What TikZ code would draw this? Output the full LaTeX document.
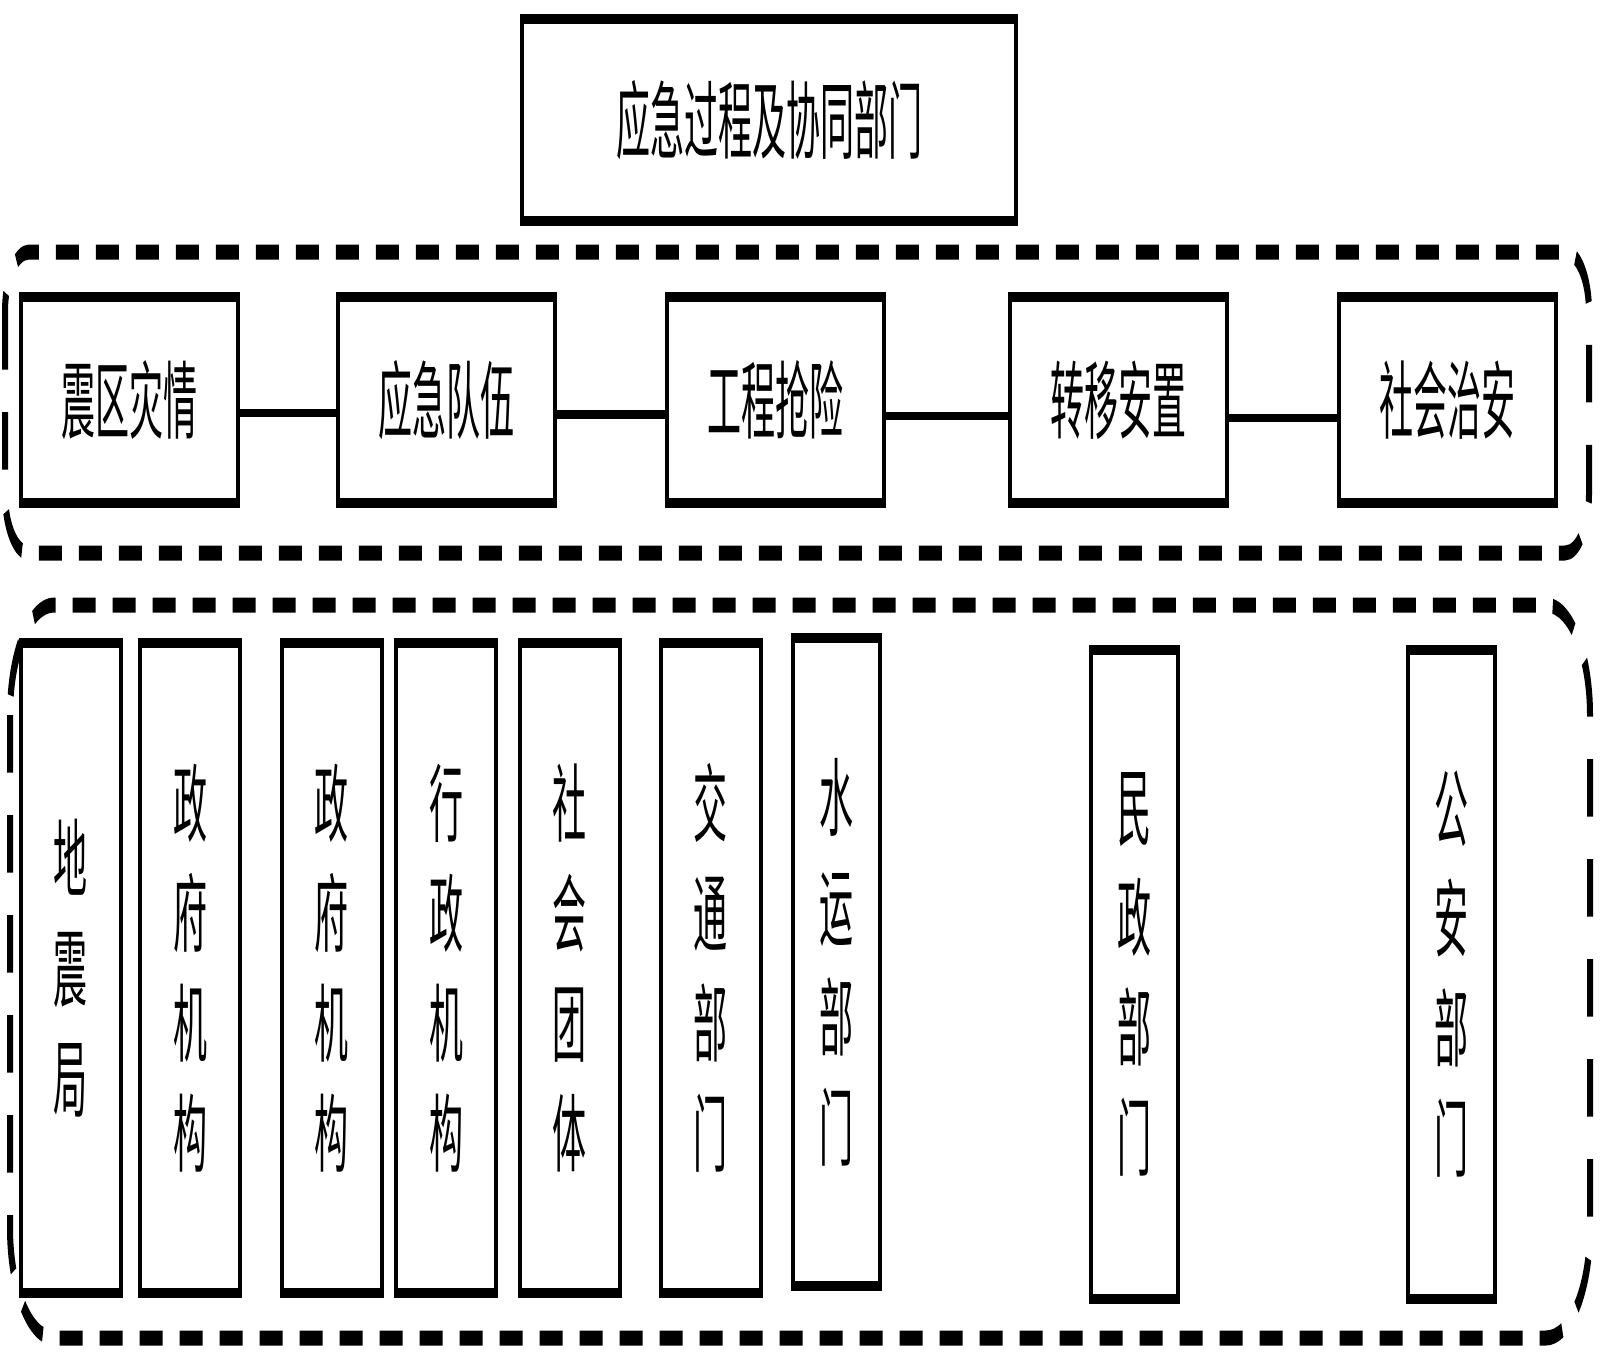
\documentclass[tikz,border=0pt]{standalone}
\usepackage{fontspec}
\newfontfamily\cjk{Noto Sans CJK SC}
\begin{document}
\begin{tikzpicture}
\fill[white] (0,0) rectangle (800pt,-678pt);
\useasboundingbox (0,0) rectangle (800pt,-678pt);
\begin{scope}[x=0.5pt,y=-0.2pt,transform canvas={yscale=2.5},
  box/.style={draw,line width=2pt,inner sep=0pt,align=center,
    font=\cjk\fontsize{17pt}{22pt}\selectfont},
  titlebox/.style={box,minimum width=247pt,minimum height=40.4pt},
  hbox/.style={box,minimum width=108.5pt,minimum height=41.2pt},
  vbox/.style={box,minimum width=50pt,minimum height=130pt},
  nbox/.style={box,minimum width=43.5pt,minimum height=129.7pt},
  link/.style={line width=1.7pt},
  group/.style={draw,dash pattern=on 11.5pt off 8.5pt,line width=3pt}]

  % title
  \node[titlebox] (title) at (769,120) {应急过程及协同部门};

  % top group
  \draw[group,rounded corners=12pt] (5,252) rectangle (1589,553);
  \node[hbox] (t1) at (129.5,400) {震区灾情};
  \node[hbox] (t2) at (446,400) {应急队伍};
  \node[hbox] (t3) at (775,400) {工程抢险};
  \node[hbox] (t4) at (1118.5,400) {转移安置};
  \node[hbox] (t5) at (1447,400) {社会治安};
  \draw[link] ([yshift=-2.6pt]t1.east) -- ([yshift=-2.6pt]t2.west);
  \draw[link] ([yshift=-2.9pt]t2.east) -- ([yshift=-2.9pt]t3.west);
  \draw[link] ([yshift=-3.2pt]t3.east) -- ([yshift=-3.2pt]t4.west);
  \draw[link] ([yshift=-3.6pt]t4.east) -- ([yshift=-3.6pt]t5.west);

  % bottom group
  \draw[group,rounded corners=22pt] (10,605) rectangle (1590,1338);
  \node[vbox] (b1) at (71,968) {地\\震\\局};
  \node[vbox] (b2) at (190,968) {政\\府\\机\\构};
  \node[vbox] (b3) at (331.5,968) {政\\府\\机\\构};
  \node[vbox] (b4) at (446,968) {行\\政\\机\\构};
  \node[vbox] (b5) at (569.5,968) {社\\会\\团\\体};
  \node[vbox] (b6) at (710.5,968) {交\\通\\部\\门};
  \node[nbox] (b7) at (836,962) {水\\运\\部\\门};
  \node[nbox] (b8) at (1134.5,974.5) {民\\政\\部\\门};
  \node[nbox] (b9) at (1451,974.5) {公\\安\\部\\门};
\end{scope}
\end{tikzpicture}
\end{document}
